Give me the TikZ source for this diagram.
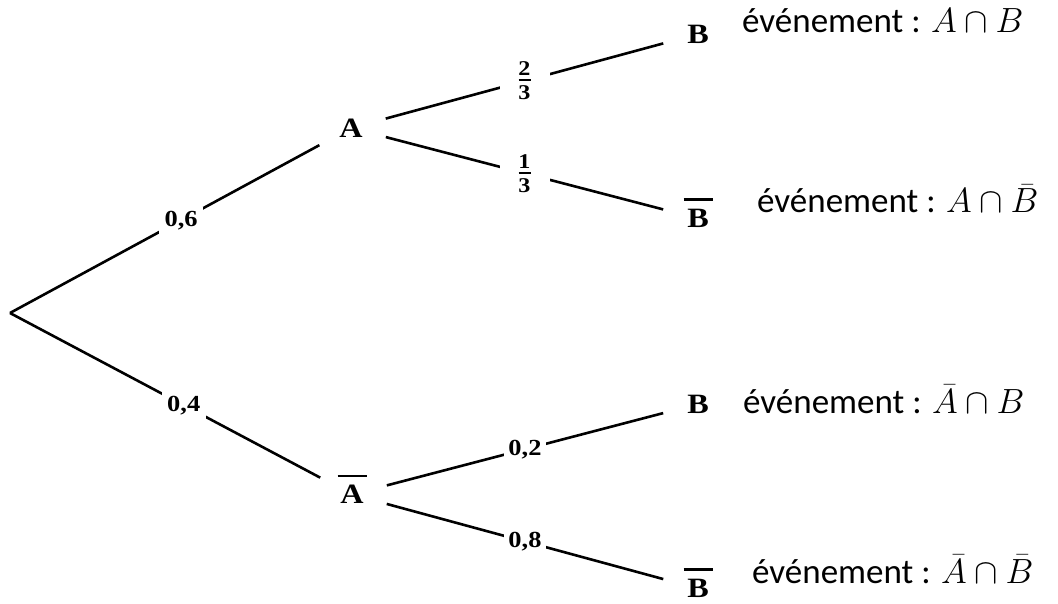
\RequirePackage{fix-cm}
\documentclass[tikz,border=0pt]{standalone}
\usepackage{fontspec}
\setmainfont{Carlito}
\newfontfamily\lblfont[FakeStretch=1.15]{Liberation Serif}
\newcommand\barred[1]{\setbox0\hbox{#1}\rlap{\hbox to \wd0{\hss\smash{\raisebox{27pt}{\rule{29pt}{2.2pt}}}\hss}}\box0}
\newcommand\fracstack[2]{\vbox{\offinterlineskip\hbox to 14pt{\hss#1\hss}\kern3.5pt\hbox to 14pt{\hss\rule{12pt}{2pt}\hss}\kern4.5pt\hbox to 14pt{\hss#2\hss}}}
\tikzset{
  ev/.style={circle, minimum size=72pt, inner sep=0pt, outer sep=0pt,
    font=\lblfont\bfseries\fontsize{28}{32}\selectfont},
  prob/.style={fill=white, inner xsep=5.5pt, inner ysep=4pt,
    font=\lblfont\bfseries\fontsize{23}{27}\selectfont},
  fraclbl/.style={fill=white, inner xsep=18pt, inner ysep=0pt,
    font=\lblfont\bfseries\fontsize{21}{25}\selectfont},
  branch/.style={line width=2.6pt},
  outcome/.style={anchor=base west, inner sep=0pt, font=\fontsize{35}{42}\selectfont},
}
\begin{document}
\begin{tikzpicture}[x=1pt,y=-1pt]
\useasboundingbox (0,0) rectangle (1058,604);
\coordinate (root) at (10,313);
\node[ev] (A)  at (351,128)   {A};
\node[ev] (Ab) at (352,494.5) {\barred{A}};
\node[ev] (B1)  at (698,34)    {B};
\node[ev] (Bb1) at (698,218.5) {\barred{B}};
\node[ev] (B2)  at (698,404)   {B};
\node[ev] (Bb2) at (698,588.5) {\barred{B}};
\draw[branch] (root) -- node[prob, pos=0.553] (p6) {0,6} (A);
\draw[branch] (root) -- node[prob, pos=0.56] (p4) {0,4} (Ab);
\draw[branch] (A) -- node[fraclbl] (f23) {\fracstack{2}{3}} (B1);
\draw[branch] (A) -- node[fraclbl] (f13) {\fracstack{1}{3}} (Bb1);
\draw[branch] (Ab) -- node[prob, inner xsep=4.5pt] (p2) {0,2} (B2);
\draw[branch] (Ab) -- node[prob, inner xsep=4.5pt] (p8) {0,8} (Bb2);
\node[outcome] (e1) at (742,33)  {événement : $A\cap B$};
\node[outcome] (e2) at (757,213) {événement : $A\cap \bar{B}$};
\node[outcome] (e3) at (743,413) {événement : $\bar{A}\cap B$};
\node[outcome] (e4) at (752,583) {événement : $\bar{A}\cap \bar{B}$};
\end{tikzpicture}
\end{document}
